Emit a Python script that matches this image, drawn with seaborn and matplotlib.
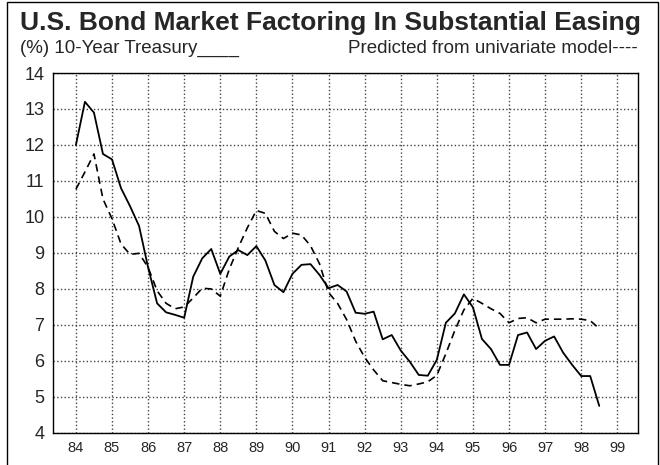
import matplotlib
matplotlib.use('Agg')
import matplotlib.pyplot as plt
import seaborn as sns
import pandas as pd
import numpy as np
from matplotlib.patches import Rectangle

# Quarterly data, 1984Q1 .. 1998Q3
years = np.arange(59) * 0.25 + 84

treasury = [12.0, 13.2, 12.9, 11.75, 11.6, 10.8, 10.3, 9.75,
            8.6, 7.6, 7.35, 7.28, 7.2, 8.34, 8.85, 9.11,
            8.42, 8.9, 9.08, 8.94, 9.19, 8.79, 8.11, 7.91,
            8.42, 8.67, 8.69, 8.39, 8.02, 8.11, 7.93, 7.34,
            7.31, 7.37, 6.6, 6.72, 6.29, 5.98, 5.61, 5.59,
            6.03, 7.06, 7.32, 7.85, 7.49, 6.61, 6.33, 5.89,
            5.89, 6.72, 6.79, 6.33, 6.56, 6.68, 6.23, 5.89,
            5.58, 5.58, 4.75]

predicted = [10.77, 11.25, 11.75, 10.5, 9.95, 9.25, 8.96, 8.99,
             8.6, 7.95, 7.6, 7.45, 7.5, 7.75, 8.02, 8.0,
             7.8, 8.55, 9.15, 9.7, 10.18, 10.1, 9.6, 9.4,
             9.55, 9.5, 9.2, 8.7, 7.9, 7.6, 7.15, 6.55,
             6.1, 5.75, 5.45, 5.4, 5.35, 5.31, 5.36, 5.42,
             5.6, 6.2, 6.85, 7.42, 7.74, 7.6, 7.45, 7.32,
             7.06, 7.18, 7.2, 7.06, 7.16, 7.16, 7.16, 7.17,
             7.16, 7.12, 6.9]

x_ticks = list(range(84, 100))
y_ticks = list(range(4, 15))

df = pd.DataFrame({'year': years, 'treasury': treasury, 'predicted': predicted})

sns.set_style('white')
plt.rcParams['font.family'] = ['Liberation Sans', 'DejaVu Sans']

fig = plt.figure(figsize=(6.6, 4.65), dpi=100)
ax = fig.add_axes([0.080, 0.069, 0.887, 0.774])

sns.lineplot(data=df, x='year', y='treasury', ax=ax, color='black', linewidth=1.3)
sns.lineplot(data=df, x='year', y='predicted', ax=ax, color='black', linewidth=1.2,
             linestyle=(0, (4.5, 3)))

ax.set_xlim(83.36, 99.58)
ax.set_ylim(4, 14)
ax.set_xticks(x_ticks)
ax.set_xticklabels([str(t) for t in x_ticks], fontsize=10.5)
ax.set_yticks(y_ticks)
ax.set_yticklabels([str(t) for t in y_ticks], fontsize=13)
ax.tick_params(length=0, pad=6)
ax.set_xlabel('')
ax.set_ylabel('')

ax.grid(True, linestyle=':', color='#444444', linewidth=1.0)
for s in ax.spines.values():
    s.set_color('black')
    s.set_linewidth(1.0)

# Titles
fig.text(0.030, 0.951, 'U.S. Bond Market Factoring In Substantial Easing',
         fontsize=19, fontweight='bold', va='center', ha='left')
fig.text(0.030, 0.895, '(%) 10-Year Treasury____', fontsize=13.5, va='center', ha='left')
fig.text(0.967, 0.895, 'Predicted from univariate model----', fontsize=13.5,
         va='center', ha='right')

# Outer frame
fig.patches.append(Rectangle((0.010, -0.01), 0.987, 1.006, transform=fig.transFigure,
                             fill=False, edgecolor='black', linewidth=1.0))

fig.savefig('out.png', dpi=100)
plt.close(fig)
